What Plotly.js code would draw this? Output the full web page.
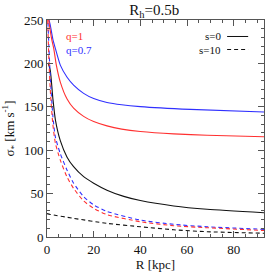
<!DOCTYPE html>
<html><head><meta charset="utf-8">
<script src="https://cdn.plot.ly/plotly-3.0.1.min.js"></script>
<style>html,body{margin:0;padding:0;background:#fff}#c{width:266px;height:273px}</style>
</head><body><div id="c"></div>
<script>
// Data
const R_blueSolid = [0.7, 1.4, 2.5, 3.6, 5.7, 8.6, 11.4, 15.7, 20, 25.7, 32, 40, 61.4, 93];
const S_blueSolid = [252, 244, 228, 217, 198, 184, 175, 165.5, 159.5, 155, 152.3, 150.2, 147, 144];
const R_redSolid = [0.5, 1, 2, 2.9, 4, 5.7, 8.6, 11.4, 15.7, 20, 25.7, 32, 40, 54.3, 68.6, 93];
const S_redSolid = [255, 245, 228, 217, 198, 178.5, 159, 148.5, 139, 133, 128, 124.3, 121.5, 118.8, 117.3, 115.5];
const R_blackSolid = [0.5, 1.4, 2.5, 3.6, 5.7, 8.6, 11.4, 15.7, 20, 25.7, 32.9, 40, 54.3, 68.6, 93];
const S_blackSolid = [200, 192, 160, 135, 111, 92, 81, 69.5, 62, 54, 46.8, 42, 35.8, 32, 28];
const R_blueDash = [0.3, 0.8, 1.5, 2.5, 3.6, 5.7, 8.6, 11.4, 15.7, 20, 25.7, 40, 54.3, 68.6, 93];
const S_blueDash = [255, 220, 180, 140, 115, 96, 77, 62, 46.5, 37, 29.5, 19.5, 14.6, 11.8, 8.8];
const R_redDash = [0.3, 0.8, 1.5, 2.5, 3.6, 5.7, 8.6, 11.4, 15.7, 20, 25.7, 40, 54.3, 68.6, 93];
const S_redDash = [250, 205, 165, 130, 108, 88.5, 69, 56, 41.5, 33, 25.8, 17.6, 13, 10.7, 7.5];
const R_blackDash = [0, 1.4, 11.4, 25.7, 40, 54.3, 68.6, 93];
const S_blackDash = [27, 26, 21.5, 15.7, 11.8, 8.3, 6.1, 4.3];

const xTicks = [0, 20, 40, 60, 80];
const yTicks = [0, 50, 100, 150, 200, 250];

function tr(x, y, color, dash) {
  return {x: x, y: y, type: 'scatter', mode: 'lines', line: {color: color, width: 1.1, dash: dash, shape: 'spline', smoothing: 0.6}, showlegend: false, hoverinfo: 'skip'};
}
const data = [
  tr(R_blueSolid, S_blueSolid, '#3030ff', 'solid'),
  tr(R_redSolid, S_redSolid, '#ff3030', 'solid'),
  tr(R_blackSolid, S_blackSolid, '#111', 'solid'),
  tr(R_blueDash, S_blueDash, '#3030ff', '4px,3px'),
  tr(R_redDash, S_redDash, '#ff3030', '4px,3px'),
  tr(R_blackDash, S_blackDash, '#111', '4px,3px')
];
const F = 'Liberation Serif, Times New Roman, serif';
const axisCommon = {
  showgrid: false, zeroline: false, showline: true, linecolor: '#555', linewidth: 1,
  mirror: 'allticks', ticks: 'inside', ticklen: 6, tickcolor: '#555', tickwidth: 1,
  tickfont: {family: F, size: 13, color: '#111'}
};
const layout = {
  width: 266, height: 273,
  margin: {l: 46.7, r: 2, t: 19.5, b: 36},
  paper_bgcolor: '#fff', plot_bgcolor: '#fff',
  font: {family: F, color: '#111'},
  title: {text: 'R<sub>h</sub>=0.5b', font: {family: F, size: 15, color: '#111'}, x: 0.58, xanchor: 'center', y: 0.985, yanchor: 'top'},
  xaxis: Object.assign({}, axisCommon, {
    range: [0, 93], tickvals: xTicks, ticktext: xTicks.map(String),
    minor: {dtick: 5, tick0: 0, ticks: 'inside', ticklen: 3, tickcolor: '#555'},
    title: {text: 'R [kpc]', font: {family: F, size: 13, color: '#111'}, standoff: 2}
  }),
  yaxis: Object.assign({}, axisCommon, {
    range: [0, 250], tickvals: yTicks, ticktext: yTicks.map(String),
    minor: {dtick: 10, tick0: 0, ticks: 'inside', ticklen: 3, tickcolor: '#555'},
    title: {text: 'σ<sub>*</sub> [km s<sup>-1</sup>]', font: {family: F, size: 13, color: '#111'}, standoff: 6}
  }),
  annotations: [
    {xref: 'paper', yref: 'paper', x: 0.078, y: 0.924, xanchor: 'left', yanchor: 'middle', text: 'q=1', showarrow: false, font: {family: F, size: 11, color: '#ff3030'}},
    {xref: 'paper', yref: 'paper', x: 0.078, y: 0.864, xanchor: 'left', yanchor: 'middle', text: 'q=0.7', showarrow: false, font: {family: F, size: 11, color: '#3030ff'}},
    {xref: 'paper', yref: 'paper', x: 0.812, y: 0.924, xanchor: 'right', yanchor: 'middle', text: 's=0', showarrow: false, font: {family: F, size: 11, color: '#111'}},
    {xref: 'paper', yref: 'paper', x: 0.812, y: 0.864, xanchor: 'right', yanchor: 'middle', text: 's=10', showarrow: false, font: {family: F, size: 11, color: '#111'}}
  ],
  shapes: [
    {type: 'line', xref: 'paper', yref: 'paper', x0: 0.83, x1: 0.927, y0: 0.924, y1: 0.924, line: {color: '#111', width: 1}},
    {type: 'line', xref: 'paper', yref: 'paper', x0: 0.83, x1: 0.927, y0: 0.864, y1: 0.864, line: {color: '#111', width: 1, dash: '4px,3px'}}
  ]
};
Plotly.newPlot('c', data, layout, {displayModeBar: false, staticPlot: true});
</script></body></html>
